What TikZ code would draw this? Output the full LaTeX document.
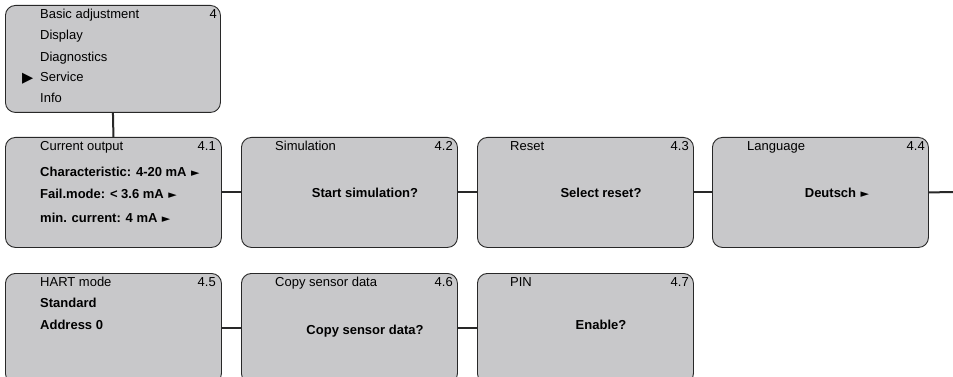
\documentclass[tikz,border=0pt]{standalone}
\usepackage{fontspec}
\setmainfont{Liberation Sans}
\newfontfamily\symfont{DejaVu Sans}
\definecolor{boxgray}{RGB}{200,200,202}
\definecolor{linegray}{RGB}{40,40,40}
\newcommand{\ptr}{\hspace{4.5pt}{\symfont\fontsize{11}{13}\selectfont ►}}
\begin{document}
\begin{tikzpicture}[x=1pt,y=-1pt,
  menubox/.style={draw=linegray,line width=0.9pt,fill=boxgray,rounded corners=10pt,
    anchor=north west,minimum width=216pt,minimum height=110pt,inner sep=0pt},
  link/.style={line width=2pt,draw=linegray},
  txt/.style={anchor=base west,inner sep=0pt,font=\fontsize{13}{15}\selectfont},
  num/.style={anchor=base east,inner sep=0pt,font=\fontsize{13}{15}\selectfont},
  btxt/.style={anchor=base west,inner sep=0pt,font=\fontsize{13}{15}\selectfont\bfseries},
  ctxt/.style={anchor=base,inner sep=0pt,font=\fontsize{13}{15}\selectfont\bfseries}]
\useasboundingbox (0,0) rectangle (953,377);
% boxes
\node[menubox,minimum width=215pt,minimum height=107pt] (m4) at (5,5) {};
\node[menubox] (b41) at (5,137) {};
\node[menubox] (b42) at (241,137) {};
\node[menubox] (b43) at (477,137) {};
\node[menubox] (b44) at (712,137) {};
\node[menubox] (b45) at (5,273) {};
\node[menubox] (b46) at (241,273) {};
\node[menubox] (b47) at (477,273) {};
\coordinate (out) at (953,192);
% connectors
\draw[link] (m4.south) -- (b41.north);
\draw[link] (b41.east) -- (b42.west);
\draw[link] (b42.east) -- (b43.west);
\draw[link] (b43.east) -- (b44.west);
\draw[link] (b44.east) -- (out);
\draw[link] (b45.east) -- (b46.west);
\draw[link] (b46.east) -- (b47.west);
% top menu
\node[txt] (t1) at (40,19) {Basic adjustment};
\node[txt] (t2) at (40,40) {Display};
\node[txt] (t3) at (40,61.5) {Diagnostics};
\node[txt] (t4) at (40,82) {Service};
\node[txt] (t5) at (40,103) {Info};
\node[num] (n4) at (217,19) {4};
\node[anchor=base west,inner sep=0pt,font=\symfont\fontsize{14.5}{15}\selectfont] (mark) at (22,82.5) {▶};
% 4.1
\node[txt] (h41) at (40,150) {Current output};
\node[num] (n41) at (216,150) {4.1};
\node[btxt] (c41a) at (40,176.5) {Characteristic: 4-20 mA\ptr};
\node[btxt] (c41b) at (40,198) {Fail.mode: < 3.6 mA\ptr};
\node[btxt] (c41c) at (40,222.5) {min. current: 4 mA\ptr};
% 4.2
\node[txt] (h42) at (275,150) {Simulation};
\node[num] (n42) at (453,150) {4.2};
\node[ctxt] (c42) at (365,197.5) {Start simulation?};
% 4.3
\node[txt] (h43) at (510,150) {Reset};
\node[num] (n43) at (689,150) {4.3};
\node[ctxt] (c43) at (601,197.5) {Select reset?};
% 4.4
\node[txt] (h44) at (747,150) {Language};
\node[num] (n44) at (925,150) {4.4};
\node[ctxt] (c44) at (837,197.5) {Deutsch\ptr};
% 4.5
\node[txt] (h45) at (40,286.5) {HART mode};
\node[num] (n45) at (216,286.5) {4.5};
\node[btxt] (c45a) at (40,307.5) {Standard};
\node[btxt] (c45b) at (40,329.5) {Address 0};
% 4.6
\node[txt] (h46) at (275,286.5) {Copy sensor data};
\node[num] (n46) at (453,286.5) {4.6};
\node[ctxt] (c46) at (365,334.5) {Copy sensor data?};
% 4.7
\node[txt] (h47) at (510,286.5) {PIN};
\node[num] (n47) at (689,286.5) {4.7};
\node[ctxt] (c47) at (601,329.5) {Enable?};
\end{tikzpicture}
\end{document}
